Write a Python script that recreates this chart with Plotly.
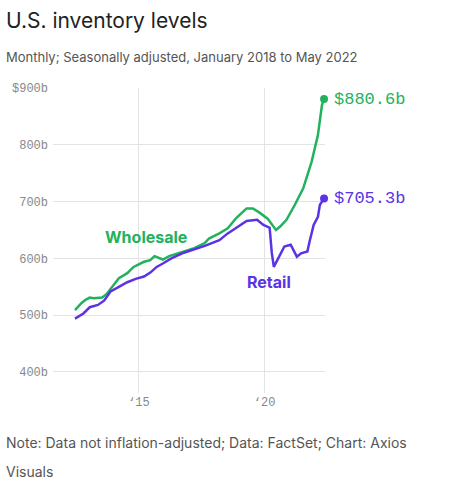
import plotly.graph_objects as go

# Monthly inventory levels, billions of dollars
wholesale_dates = [
    "2012-06-15", "2012-09-15", "2012-11-15", "2013-01-15", "2013-03-15",
    "2013-07-15", "2013-09-15", "2013-11-15", "2014-03-15", "2014-07-15",
    "2014-10-15", "2015-03-15", "2015-06-15", "2015-08-15", "2015-12-15",
    "2016-03-15", "2016-10-15", "2017-03-15", "2017-08-15", "2017-10-15",
    "2018-03-15", "2018-07-15", "2018-11-15", "2019-04-15", "2019-07-15",
    "2019-10-15", "2020-02-15", "2020-05-15", "2020-06-15", "2020-08-15",
    "2020-11-15", "2021-03-15", "2021-07-15", "2021-11-15", "2022-02-15",
    "2022-04-15", "2022-05-15",
]
wholesale = [
    509, 521, 527, 531, 530,
    531, 537, 547, 565, 574,
    585, 594, 597, 604, 598,
    604, 612, 618, 627, 635,
    644, 653, 671, 688, 688,
    681, 670, 656, 650, 656,
    668, 694, 723, 770, 817,
    870, 880.6,
]

retail_dates = [
    "2012-06-15", "2012-10-15", "2013-01-15", "2013-05-15", "2013-08-15",
    "2013-11-15", "2014-03-15", "2014-07-15", "2014-11-15", "2015-03-15",
    "2015-06-15", "2015-09-15", "2015-12-15", "2016-04-15", "2016-10-15",
    "2017-04-15", "2017-08-15", "2018-03-15", "2018-07-15", "2018-12-15",
    "2019-04-15", "2019-09-15", "2019-12-15", "2020-03-15", "2020-04-15",
    "2020-05-15", "2020-07-15", "2020-10-15", "2021-01-15", "2021-03-15",
    "2021-04-15", "2021-06-15", "2021-09-15", "2021-10-15", "2021-12-15",
    "2022-02-15", "2022-03-15", "2022-04-15", "2022-05-15",
]
retail = [
    494, 503, 514, 518, 526,
    542, 550, 558, 564, 568,
    575, 585, 591, 600, 610,
    617, 622, 632, 644, 656,
    666, 668, 659, 654, 610,
    585, 600, 621, 624, 609,
    603, 609, 612, 629, 659,
    673, 694, 700, 705.3,
]

y_ticks = [400, 500, 600, 700, 800, 900]
y_labels = ["400b", "500b", "600b", "700b", "800b", "$900b"]
x_ticks = ["2015-01-01", "2020-01-01"]
x_labels = ["‘15", "‘20"]

GREEN = "#22b25e"
PURPLE = "#5a33e6"
MONO = "Liberation Mono, DejaVu Sans Mono, monospace"
SANS = "Inter, Lato, sans-serif"

fig = go.Figure()

fig.add_trace(go.Scatter(x=wholesale_dates, y=wholesale, mode="lines",
                         line=dict(color=GREEN, width=2.5), name="Wholesale"))
fig.add_trace(go.Scatter(x=retail_dates, y=retail, mode="lines",
                         line=dict(color=PURPLE, width=2.5), name="Retail"))

# end dots
fig.add_trace(go.Scatter(x=[wholesale_dates[-1]], y=[wholesale[-1]], mode="markers",
                         marker=dict(color=GREEN, size=8), cliponaxis=False))
fig.add_trace(go.Scatter(x=[retail_dates[-1]], y=[retail[-1]], mode="markers",
                         marker=dict(color=PURPLE, size=8), cliponaxis=False))

annotations = [
    dict(x=wholesale_dates[-1], y=wholesale[-1], text=f"${wholesale[-1]}b",
         xanchor="left", xshift=8, showarrow=False,
         font=dict(family=MONO, size=17, color=GREEN)),
    dict(x=retail_dates[-1], y=retail[-1], text=f"${retail[-1]}b",
         xanchor="left", xshift=8, showarrow=False,
         font=dict(family=MONO, size=17, color=PURPLE)),
    dict(x="2015-04-15", y=638, text="<b>Wholesale</b>", showarrow=False,
         font=dict(family=SANS, size=16, color=GREEN)),
    dict(x="2020-03-01", y=558, text="<b>Retail</b>", showarrow=False,
         font=dict(family=SANS, size=16, color=PURPLE)),
    # title block
    dict(xref="paper", yref="paper", x=-50/275, y=1 + 68/305, text="U.S. inventory levels",
         xanchor="left", yanchor="middle", showarrow=False,
         font=dict(family=SANS, size=21, color="#222222")),
    dict(xref="paper", yref="paper", x=-50/275, y=1 + 31/305,
         text="Monthly; Seasonally adjusted, January 2018 to May 2022",
         xanchor="left", yanchor="middle", showarrow=False,
         font=dict(family=SANS, size=13, color="#555555")),
    # footer
    dict(xref="paper", yref="paper", x=-50/275, y=-49/305,
         text="Note: Data not inflation-adjusted; Data: FactSet; Chart: Axios",
         xanchor="left", yanchor="middle", showarrow=False,
         font=dict(family=SANS, size=14, color="#555555")),
    dict(xref="paper", yref="paper", x=-50/275, y=-79/305, text="Visuals",
         xanchor="left", yanchor="middle", showarrow=False,
         font=dict(family=SANS, size=14, color="#555555")),
]

fig.update_layout(
    width=460, height=484,
    margin=dict(l=50, r=135, t=88, b=91),
    paper_bgcolor="white", plot_bgcolor="white",
    showlegend=False,
    annotations=annotations,
    xaxis=dict(range=["2011-07-31", "2022-05-29"], tickvals=x_ticks, ticktext=x_labels,
               showgrid=True, gridcolor="#e3e3e3", gridwidth=1, zeroline=False,
               showline=False, ticks="",
               tickfont=dict(family=MONO, size=12, color="#888888")),
    yaxis=dict(range=[363, 900], tickvals=y_ticks, ticktext=y_labels,
               showgrid=True, gridcolor="#e3e3e3", gridwidth=1, zeroline=False,
               showline=False, ticks="", ticklabelstandoff=4,
               tickfont=dict(family=MONO, size=12, color="#888888")),
)

fig.write_html("out.html", config={"displayModeBar": False},
               post_script="document.body.style.margin='0';")
